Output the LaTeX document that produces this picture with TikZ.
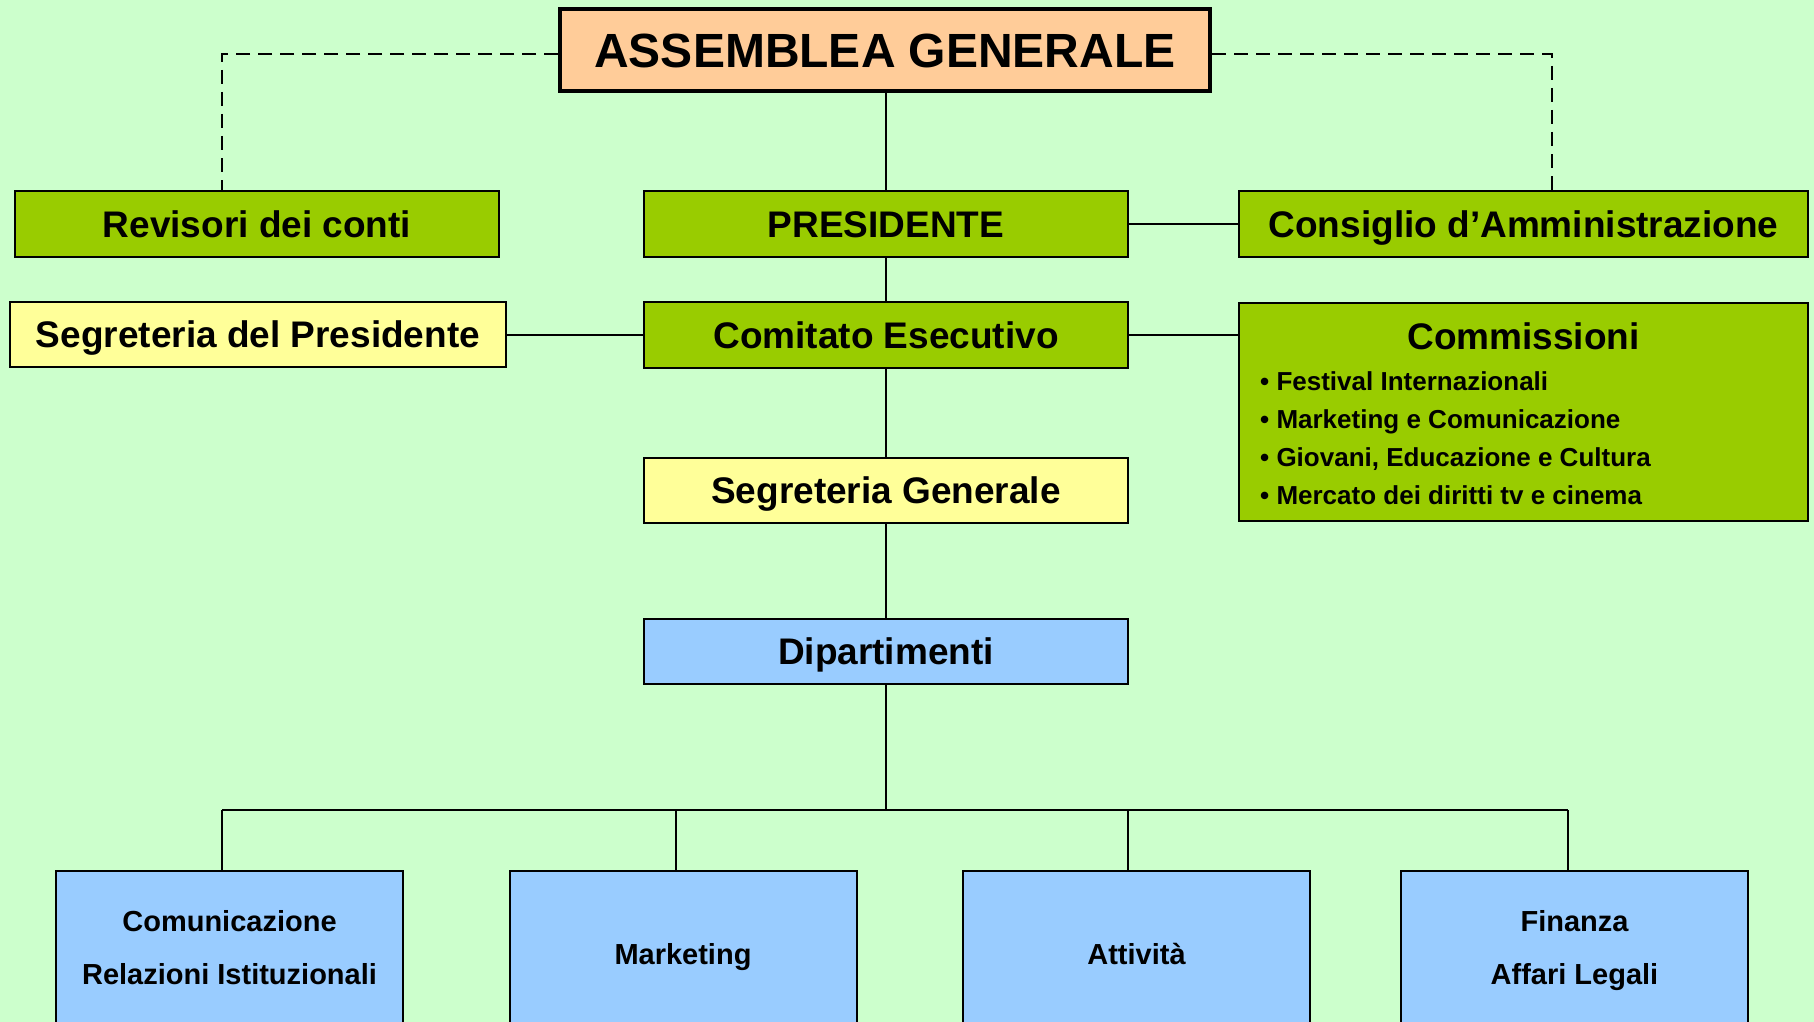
\documentclass[tikz,border=0pt]{standalone}
\usepackage{fontspec}
\setmainfont{Liberation Sans}
\usetikzlibrary{calc}
\definecolor{sfondo}{HTML}{CCFFCC}
\definecolor{verde}{HTML}{99CC00}
\definecolor{giallo}{HTML}{FFFF99}
\definecolor{azzurro}{HTML}{99CCFF}
\definecolor{pesca}{HTML}{FFCC99}
\tikzset{
  box/.style={draw=black, line width=2pt, inner sep=0pt, text height=26.5pt, text depth=0pt, font=\bfseries\fontsize{37}{40}\selectfont},
  organo/.style={box, fill=verde, minimum height=66pt},
  segreteria/.style={box, fill=giallo, minimum height=65pt},
  dipbox/.style={box, fill=azzurro, minimum width=347pt, minimum height=152pt, align=center, text height=75pt, font=\bfseries\fontsize{29}{53}\selectfont},
  linea/.style={line width=1.6pt},
  voce/.style={anchor=west, inner sep=0pt, text height=19pt, text depth=0pt, font=\bfseries\fontsize{26}{28}\selectfont}
}
\begin{document}
\begin{tikzpicture}[x=1pt,y=-1pt]
  \useasboundingbox[fill=sfondo] (0,0) rectangle (1814,1022);
  % vertice
  \node[box, fill=pesca, line width=4pt, minimum width=650pt, minimum height=82pt, text height=34.5pt, font=\bfseries\fontsize{48}{50}\selectfont] (assemblea) at (885,50) {ASSEMBLEA GENERALE};
  % organi
  \node[organo, minimum width=484pt] (revisori) at (257,224) {Revisori dei conti};
  \node[organo, minimum width=484pt] (presidente) at (886,224) {PRESIDENTE};
  \node[organo, minimum width=569pt] (consiglio) at (1523.5,224) {Consiglio d’Amministrazione};
  \node[segreteria, minimum width=496pt] (segpres) at (258,334) {Segreteria del Presidente};
  \node[organo, minimum width=484pt] (comitato) at (886,335) {Comitato Esecutivo};
  \node[box, fill=verde, minimum width=569pt, minimum height=218pt] (commissioni) at (1523.5,412) {};
  \node[inner sep=0pt, text height=26.5pt, text depth=0pt, font=\bfseries\fontsize{37}{40}\selectfont] (commtitolo) at (1523.5,336) {Commissioni};
  \foreach \testo [count=\i] in {Festival Internazionali, Marketing e Comunicazione, {Giovani, Educazione e Cultura}, Mercato dei diritti tv e cinema}
    \node[voce] (voce\i) at (1260,{343+38*\i}) {• \testo};
  \node[segreteria, minimum width=484pt] (seggen) at (886,490.5) {Segreteria Generale};
  \node[box, fill=azzurro, minimum width=484pt, minimum height=65pt] (dipartimenti) at (886,651.5) {Dipartimenti};
  % dipartimenti
  \node[dipbox] (comunicazione) at (229.5,947) {Comunicazione\\Relazioni Istituzionali};
  \node[dipbox, text height=34pt] (marketing) at (683,947) {Marketing};
  \node[dipbox, text height=34pt] (attivita) at (1136.5,947) {Attività};
  \node[dipbox] (finanza) at (1574.5,947) {Finanza\\Affari Legali};
  % collegamenti tratteggiati
  \coordinate (angsx) at (222,54);
  \coordinate (angdx) at (1552,54);
  \draw[linea, dash pattern=on 14pt off 8pt] (assemblea.west |- angsx) -- (angsx) -- (angsx |- revisori.north);
  \draw[linea, dash pattern=on 14pt off 8pt] (assemblea.east |- angdx) -- (angdx) -- (angdx |- consiglio.north);
  % collegamenti pieni
  \draw[linea] (assemblea.south -| presidente.north) -- (presidente.north);
  \draw[linea] (presidente.south) -- (comitato.north);
  \draw[linea] (comitato.south) -- (seggen.north);
  \draw[linea] (seggen.south) -- (dipartimenti.north);
  \draw[linea] (presidente.east) -- (consiglio.west |- presidente.east);
  \draw[linea] (comitato.west) -- (segpres.east |- comitato.west);
  \draw[linea] (comitato.east) -- (commissioni.west |- comitato.east);
  % barra dei dipartimenti
  \coordinate (d1) at (222,810);
  \coordinate (d2) at (676,810);
  \coordinate (d3) at (1128,810);
  \coordinate (d4) at (1568,810);
  \draw[linea] (dipartimenti.south) -- (dipartimenti.south |- d1);
  \draw[linea] (d1) -- (d4);
  \draw[linea] (d1) -- (d1 |- comunicazione.north);
  \draw[linea] (d2) -- (d2 |- marketing.north);
  \draw[linea] (d3) -- (d3 |- attivita.north);
  \draw[linea] (d4) -- (d4 |- finanza.north);
\end{tikzpicture}
\end{document}
